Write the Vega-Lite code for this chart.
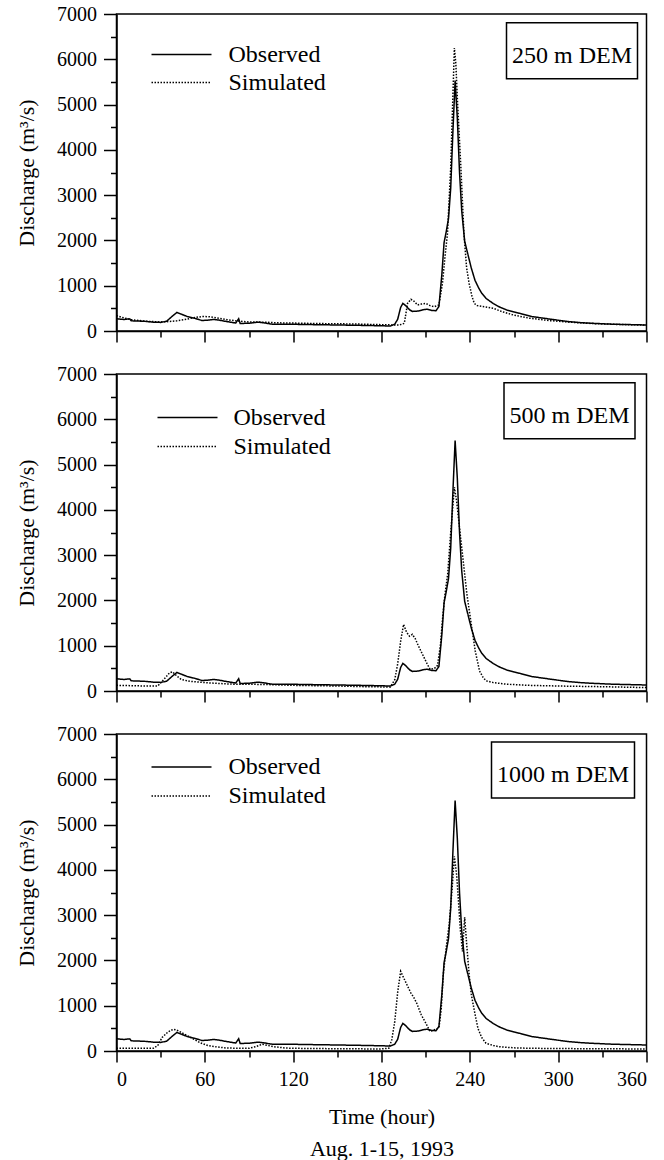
{
  "$schema": "https://vega.github.io/schema/vega-lite/v6.json",
  "padding": {"top": 3, "left": 13.5, "right": 1, "bottom": 2},
  "spacing": 19,
  "background": "white",
  "config": {
    "view": {"stroke": "black", "strokeWidth": 1.5},
    "axis": {
      "domainColor": "black", "domainWidth": 1.5,
      "tickColor": "black", "tickWidth": 1.5,
      "labelFont": "Liberation Serif", "labelFontSize": 20, "labelColor": "black", "labelPadding": 7,
      "titleFont": "Liberation Serif", "titleFontSize": 22, "titleFontWeight": "normal", "titleColor": "black",
      "grid": false, "labelOverlap": false
    },
    "legend": {
      "labelFont": "Liberation Serif", "labelFontSize": 24, "labelColor": "black", "labelLimit": 400
    }
  },
  "datasets": {
    "obs": [
      {"t":0,"q":270,"series":"Observed"},{"t":5,"q":255,"series":"Observed"},{"t":9,"q":268,"series":"Observed"},{"t":10,"q":225,"series":"Observed"},{"t":15,"q":220,"series":"Observed"},{"t":20,"q":212,"series":"Observed"},{"t":25,"q":195,"series":"Observed"},{"t":30,"q":190,"series":"Observed"},{"t":34,"q":215,"series":"Observed"},{"t":38,"q":330,"series":"Observed"},{"t":41,"q":410,"series":"Observed"},{"t":44,"q":372,"series":"Observed"},{"t":48,"q":320,"series":"Observed"},{"t":53,"q":282,"series":"Observed"},{"t":58,"q":232,"series":"Observed"},{"t":62,"q":240,"series":"Observed"},{"t":66,"q":255,"series":"Observed"},{"t":70,"q":238,"series":"Observed"},{"t":76,"q":202,"series":"Observed"},{"t":81,"q":176,"series":"Observed"},{"t":83,"q":270,"series":"Observed"},{"t":84,"q":165,"series":"Observed"},{"t":90,"q":172,"series":"Observed"},{"t":96,"q":195,"series":"Observed"},{"t":100,"q":182,"series":"Observed"},{"t":105,"q":152,"series":"Observed"},{"t":120,"q":148,"series":"Observed"},{"t":135,"q":140,"series":"Observed"},{"t":150,"q":133,"series":"Observed"},{"t":165,"q":125,"series":"Observed"},{"t":179,"q":116,"series":"Observed"},{"t":186,"q":110,"series":"Observed"},{"t":189,"q":150,"series":"Observed"},{"t":191,"q":260,"series":"Observed"},{"t":193,"q":520,"series":"Observed"},{"t":194.5,"q":610,"series":"Observed"},{"t":196.5,"q":560,"series":"Observed"},{"t":199,"q":470,"series":"Observed"},{"t":201,"q":432,"series":"Observed"},{"t":205,"q":440,"series":"Observed"},{"t":208,"q":468,"series":"Observed"},{"t":211,"q":480,"series":"Observed"},{"t":214,"q":455,"series":"Observed"},{"t":217,"q":448,"series":"Observed"},{"t":219,"q":540,"series":"Observed"},{"t":221,"q":1250,"series":"Observed"},{"t":222.5,"q":1950,"series":"Observed"},{"t":224,"q":2200,"series":"Observed"},{"t":225.5,"q":2480,"series":"Observed"},{"t":227,"q":3150,"series":"Observed"},{"t":228.5,"q":4400,"series":"Observed"},{"t":230,"q":5530,"series":"Observed"},{"t":231.5,"q":4700,"series":"Observed"},{"t":233,"q":3500,"series":"Observed"},{"t":234.5,"q":2650,"series":"Observed"},{"t":236.5,"q":1980,"series":"Observed"},{"t":239,"q":1650,"series":"Observed"},{"t":241,"q":1390,"series":"Observed"},{"t":243.5,"q":1120,"series":"Observed"},{"t":246,"q":950,"series":"Observed"},{"t":248,"q":840,"series":"Observed"},{"t":251,"q":720,"series":"Observed"},{"t":254,"q":650,"series":"Observed"},{"t":256,"q":605,"series":"Observed"},{"t":259.5,"q":540,"series":"Observed"},{"t":265,"q":465,"series":"Observed"},{"t":270,"q":420,"series":"Observed"},{"t":274,"q":390,"series":"Observed"},{"t":282,"q":320,"series":"Observed"},{"t":288,"q":292,"series":"Observed"},{"t":294,"q":265,"series":"Observed"},{"t":300,"q":238,"series":"Observed"},{"t":308,"q":205,"series":"Observed"},{"t":315,"q":185,"series":"Observed"},{"t":323,"q":170,"series":"Observed"},{"t":337,"q":150,"series":"Observed"},{"t":350,"q":140,"series":"Observed"},{"t":360,"q":133,"series":"Observed"}
    ],
    "s250": [
      {"t":0,"q":340,"series":"Simulated"},{"t":5,"q":290,"series":"Simulated"},{"t":10,"q":250,"series":"Simulated"},{"t":20,"q":215,"series":"Simulated"},{"t":30,"q":200,"series":"Simulated"},{"t":36,"q":210,"series":"Simulated"},{"t":41,"q":225,"series":"Simulated"},{"t":46,"q":250,"series":"Simulated"},{"t":52,"q":290,"series":"Simulated"},{"t":58,"q":320,"series":"Simulated"},{"t":63,"q":315,"series":"Simulated"},{"t":68,"q":290,"series":"Simulated"},{"t":75,"q":250,"series":"Simulated"},{"t":82,"q":222,"series":"Simulated"},{"t":90,"q":200,"series":"Simulated"},{"t":100,"q":195,"series":"Simulated"},{"t":110,"q":180,"series":"Simulated"},{"t":120,"q":175,"series":"Simulated"},{"t":135,"q":165,"series":"Simulated"},{"t":150,"q":160,"series":"Simulated"},{"t":165,"q":152,"series":"Simulated"},{"t":180,"q":140,"series":"Simulated"},{"t":192,"q":130,"series":"Simulated"},{"t":195.5,"q":170,"series":"Simulated"},{"t":197.7,"q":610,"series":"Simulated"},{"t":200,"q":700,"series":"Simulated"},{"t":202,"q":660,"series":"Simulated"},{"t":204.5,"q":575,"series":"Simulated"},{"t":207,"q":595,"series":"Simulated"},{"t":210,"q":610,"series":"Simulated"},{"t":213,"q":560,"series":"Simulated"},{"t":215.7,"q":537,"series":"Simulated"},{"t":219,"q":575,"series":"Simulated"},{"t":221.4,"q":1050,"series":"Simulated"},{"t":223,"q":1600,"series":"Simulated"},{"t":224.8,"q":2150,"series":"Simulated"},{"t":227,"q":3600,"series":"Simulated"},{"t":228.5,"q":5200,"series":"Simulated"},{"t":229.5,"q":6250,"series":"Simulated"},{"t":230.5,"q":5900,"series":"Simulated"},{"t":231.6,"q":5080,"series":"Simulated"},{"t":233.9,"q":3620,"series":"Simulated"},{"t":236,"q":2150,"series":"Simulated"},{"t":237.8,"q":1400,"series":"Simulated"},{"t":239.5,"q":1050,"series":"Simulated"},{"t":241.5,"q":760,"series":"Simulated"},{"t":243,"q":611,"series":"Simulated"},{"t":245,"q":560,"series":"Simulated"},{"t":250,"q":536,"series":"Simulated"},{"t":256,"q":500,"series":"Simulated"},{"t":262,"q":426,"series":"Simulated"},{"t":270,"q":350,"series":"Simulated"},{"t":280,"q":285,"series":"Simulated"},{"t":294,"q":230,"series":"Simulated"},{"t":310,"q":190,"series":"Simulated"},{"t":323,"q":165,"series":"Simulated"},{"t":340,"q":145,"series":"Simulated"},{"t":360,"q":130,"series":"Simulated"}
    ],
    "s500": [
      {"t":0,"q":125,"series":"Simulated"},{"t":10,"q":118,"series":"Simulated"},{"t":20,"q":110,"series":"Simulated"},{"t":28,"q":110,"series":"Simulated"},{"t":32,"q":250,"series":"Simulated"},{"t":36,"q":400,"series":"Simulated"},{"t":38,"q":425,"series":"Simulated"},{"t":41,"q":330,"series":"Simulated"},{"t":44,"q":255,"series":"Simulated"},{"t":50,"q":212,"series":"Simulated"},{"t":60,"q":185,"series":"Simulated"},{"t":70,"q":165,"series":"Simulated"},{"t":80,"q":150,"series":"Simulated"},{"t":100,"q":145,"series":"Simulated"},{"t":120,"q":125,"series":"Simulated"},{"t":150,"q":110,"series":"Simulated"},{"t":170,"q":95,"series":"Simulated"},{"t":186,"q":88,"series":"Simulated"},{"t":189,"q":250,"series":"Simulated"},{"t":191,"q":600,"series":"Simulated"},{"t":193,"q":1100,"series":"Simulated"},{"t":195,"q":1470,"series":"Simulated"},{"t":197,"q":1300,"series":"Simulated"},{"t":199,"q":1210,"series":"Simulated"},{"t":201,"q":1250,"series":"Simulated"},{"t":203,"q":1150,"series":"Simulated"},{"t":205,"q":1000,"series":"Simulated"},{"t":208,"q":800,"series":"Simulated"},{"t":211,"q":600,"series":"Simulated"},{"t":213,"q":480,"series":"Simulated"},{"t":216,"q":500,"series":"Simulated"},{"t":218,"q":560,"series":"Simulated"},{"t":220,"q":1000,"series":"Simulated"},{"t":221.5,"q":1600,"series":"Simulated"},{"t":223,"q":2100,"series":"Simulated"},{"t":225,"q":2600,"series":"Simulated"},{"t":227,"q":3500,"series":"Simulated"},{"t":229.5,"q":4500,"series":"Simulated"},{"t":231,"q":4200,"series":"Simulated"},{"t":232.5,"q":3750,"series":"Simulated"},{"t":235,"q":3020,"series":"Simulated"},{"t":238,"q":2140,"series":"Simulated"},{"t":241,"q":1470,"series":"Simulated"},{"t":243.7,"q":880,"series":"Simulated"},{"t":246.6,"q":440,"series":"Simulated"},{"t":249,"q":300,"series":"Simulated"},{"t":251,"q":225,"series":"Simulated"},{"t":256,"q":185,"series":"Simulated"},{"t":265,"q":150,"series":"Simulated"},{"t":280,"q":125,"series":"Simulated"},{"t":300,"q":110,"series":"Simulated"},{"t":330,"q":95,"series":"Simulated"},{"t":360,"q":75,"series":"Simulated"}
    ],
    "s1000": [
      {"t":0,"q":60,"series":"Simulated"},{"t":25,"q":60,"series":"Simulated"},{"t":28,"q":120,"series":"Simulated"},{"t":31,"q":300,"series":"Simulated"},{"t":35,"q":420,"series":"Simulated"},{"t":38.5,"q":480,"series":"Simulated"},{"t":41,"q":460,"series":"Simulated"},{"t":44,"q":410,"series":"Simulated"},{"t":48,"q":340,"series":"Simulated"},{"t":52,"q":270,"series":"Simulated"},{"t":57,"q":180,"series":"Simulated"},{"t":62,"q":120,"series":"Simulated"},{"t":67,"q":95,"series":"Simulated"},{"t":75,"q":65,"series":"Simulated"},{"t":90,"q":58,"series":"Simulated"},{"t":95,"q":100,"series":"Simulated"},{"t":99,"q":150,"series":"Simulated"},{"t":103,"q":120,"series":"Simulated"},{"t":108,"q":90,"series":"Simulated"},{"t":115,"q":65,"series":"Simulated"},{"t":125,"q":58,"series":"Simulated"},{"t":150,"q":50,"series":"Simulated"},{"t":179,"q":45,"series":"Simulated"},{"t":185,"q":60,"series":"Simulated"},{"t":187,"q":250,"series":"Simulated"},{"t":189,"q":650,"series":"Simulated"},{"t":191,"q":1300,"series":"Simulated"},{"t":193,"q":1760,"series":"Simulated"},{"t":195,"q":1620,"series":"Simulated"},{"t":197,"q":1480,"series":"Simulated"},{"t":200,"q":1280,"series":"Simulated"},{"t":202,"q":1180,"series":"Simulated"},{"t":204,"q":1050,"series":"Simulated"},{"t":207,"q":800,"series":"Simulated"},{"t":210,"q":620,"series":"Simulated"},{"t":213,"q":430,"series":"Simulated"},{"t":216,"q":470,"series":"Simulated"},{"t":219,"q":510,"series":"Simulated"},{"t":220.5,"q":900,"series":"Simulated"},{"t":222,"q":1700,"series":"Simulated"},{"t":224,"q":2300,"series":"Simulated"},{"t":226,"q":2800,"series":"Simulated"},{"t":228,"q":3600,"series":"Simulated"},{"t":229.5,"q":4300,"series":"Simulated"},{"t":231,"q":3900,"series":"Simulated"},{"t":232,"q":3450,"series":"Simulated"},{"t":233.5,"q":2700,"series":"Simulated"},{"t":235,"q":2200,"series":"Simulated"},{"t":236.5,"q":2950,"series":"Simulated"},{"t":238,"q":2300,"series":"Simulated"},{"t":239.5,"q":1700,"series":"Simulated"},{"t":241,"q":1250,"series":"Simulated"},{"t":243,"q":900,"series":"Simulated"},{"t":245.5,"q":500,"series":"Simulated"},{"t":248,"q":300,"series":"Simulated"},{"t":251,"q":170,"series":"Simulated"},{"t":256,"q":120,"series":"Simulated"},{"t":260,"q":95,"series":"Simulated"},{"t":270,"q":70,"series":"Simulated"},{"t":280,"q":60,"series":"Simulated"},{"t":320,"q":50,"series":"Simulated"},{"t":360,"q":45,"series":"Simulated"}
    ]
  },
  "resolve": {"scale": {"color": "independent", "strokeDash": "independent"}, "legend": {"color": "independent", "strokeDash": "independent"}},
  "vconcat": [
    {
      "width": 530, "height": 317,
      "encoding": {
        "x": {"field": "t", "type": "quantitative", "scale": {"domain": [0, 360], "nice": false},
          "axis": {"values": [0,30,60,90,120,150,180,210,240,270,300,330,360], "labels": false, "title": null,
            "tickSize": {"condition": {"test": "datum.value % 60 === 0", "value": 11}, "value": 6}}},
        "y": {"field": "q", "type": "quantitative", "scale": {"domain": [0, 7000], "nice": false},
          "axis": {"values": [0,500,1000,1500,2000,2500,3000,3500,4000,4500,5000,5500,6000,6500,7000], "format": "d",
            "labelExpr": "datum.value % 1000 === 0 ? datum.label : ''", "title": "Discharge (m³/s)", "titlePadding": 18.5,
            "tickSize": {"condition": {"test": "datum.value % 1000 === 0", "value": 13}, "value": 6}}},
        "strokeDash": {"field": "series", "type": "nominal",
          "scale": {"domain": ["Observed", "Simulated"], "range": [[1, 0], [1.5, 1.5]]},
          "legend": {"title": null, "orient": "none", "legendX": 34, "legendY": 27, "symbolType": "stroke",
            "symbolSize": 3600, "symbolStrokeWidth": 1.5, "symbolStrokeColor": "black", "clipHeight": 27,
            "rowPadding": 1, "labelOffset": 16, "padding": 0}},
        "color": {"datum": "250 m DEM", "type": "nominal", "scale": {"range": ["black"]},
          "legend": {"title": null, "orient": "none", "legendX": 390, "legendY": 8.7, "symbolSize": 0.01,
            "symbolOpacity": 0, "symbolStrokeWidth": 0.01, "labelOffset": -24, "padding": 5.5, "clipHeight": 45,
            "strokeColor": "black",
            "encode": {"labels": {"update": {"dy": {"value": 5}}}, "legend": {"update": {"strokeWidth": {"value": 1.5}}}}}}
      },
      "layer": [
        {"data": {"name": "obs"}, "mark": {"type": "line", "strokeWidth": 1.5}},
        {"data": {"name": "s250"}, "mark": {"type": "line", "strokeWidth": 1.5}}
      ]
    },
    {
      "width": 530, "height": 317,
      "encoding": {
        "x": {"field": "t", "type": "quantitative", "scale": {"domain": [0, 360], "nice": false},
          "axis": {"values": [0,30,60,90,120,150,180,210,240,270,300,330,360], "labels": false, "title": null,
            "tickSize": {"condition": {"test": "datum.value % 60 === 0", "value": 11}, "value": 6}}},
        "y": {"field": "q", "type": "quantitative", "scale": {"domain": [0, 7000], "nice": false},
          "axis": {"values": [0,500,1000,1500,2000,2500,3000,3500,4000,4500,5000,5500,6000,6500,7000], "format": "d",
            "labelExpr": "datum.value % 1000 === 0 ? datum.label : ''", "title": "Discharge (m³/s)", "titlePadding": 18.5,
            "tickSize": {"condition": {"test": "datum.value % 1000 === 0", "value": 13}, "value": 6}}},
        "strokeDash": {"field": "series", "type": "nominal",
          "scale": {"domain": ["Observed", "Simulated"], "range": [[1, 0], [1.5, 1.5]]},
          "legend": {"title": null, "orient": "none", "legendX": 40, "legendY": 30, "symbolType": "stroke",
            "symbolSize": 3600, "symbolStrokeWidth": 1.5, "symbolStrokeColor": "black", "clipHeight": 27,
            "rowPadding": 2, "labelOffset": 15, "padding": 0}},
        "color": {"datum": "500 m DEM", "type": "nominal", "scale": {"range": ["black"]},
          "legend": {"title": null, "orient": "none", "legendX": 387.5, "legendY": 8.7, "symbolSize": 0.01,
            "symbolOpacity": 0, "symbolStrokeWidth": 0.01, "labelOffset": -24, "padding": 5.5, "clipHeight": 45,
            "strokeColor": "black",
            "encode": {"labels": {"update": {"dy": {"value": 5}}}, "legend": {"update": {"strokeWidth": {"value": 1.5}}}}}}
      },
      "layer": [
        {"data": {"name": "obs"}, "mark": {"type": "line", "strokeWidth": 1.5}},
        {"data": {"name": "s500"}, "mark": {"type": "line", "strokeWidth": 1.5}}
      ]
    },
    {
      "width": 530, "height": 317,
      "encoding": {
        "x": {"field": "t", "type": "quantitative", "scale": {"domain": [0, 360], "nice": false},
          "axis": {"values": [0,30,60,90,120,150,180,210,240,270,300,330,360],
            "labelExpr": "datum.value % 60 === 0 ? datum.label : ''",
            "title": ["Time (hour)", "Aug. 1-15, 1993"], "titleLineHeight": 32, "titlePadding": 17,
            "tickSize": {"condition": {"test": "datum.value % 60 === 0", "value": 11}, "value": 6}}},
        "y": {"field": "q", "type": "quantitative", "scale": {"domain": [0, 7000], "nice": false},
          "axis": {"values": [0,500,1000,1500,2000,2500,3000,3500,4000,4500,5000,5500,6000,6500,7000], "format": "d",
            "labelExpr": "datum.value % 1000 === 0 ? datum.label : ''", "title": "Discharge (m³/s)", "titlePadding": 18.5,
            "tickSize": {"condition": {"test": "datum.value % 1000 === 0", "value": 13}, "value": 6}}},
        "strokeDash": {"field": "series", "type": "nominal",
          "scale": {"domain": ["Observed", "Simulated"], "range": [[1, 0], [1.5, 1.5]]},
          "legend": {"title": null, "orient": "none", "legendX": 34, "legendY": 19.5, "symbolType": "stroke",
            "symbolSize": 3600, "symbolStrokeWidth": 1.5, "symbolStrokeColor": "black", "clipHeight": 27,
            "rowPadding": 2, "labelOffset": 16, "padding": 0}},
        "color": {"datum": "1000 m DEM", "type": "nominal", "scale": {"range": ["black"]},
          "legend": {"title": null, "orient": "none", "legendX": 375, "legendY": 8, "symbolSize": 0.01,
            "symbolOpacity": 0, "symbolStrokeWidth": 0.01, "labelOffset": -24, "padding": 5.5, "clipHeight": 45,
            "strokeColor": "black",
            "encode": {"labels": {"update": {"dy": {"value": 5}}}, "legend": {"update": {"strokeWidth": {"value": 1.5}}}}}}
      },
      "layer": [
        {"data": {"name": "obs"}, "mark": {"type": "line", "strokeWidth": 1.5}},
        {"data": {"name": "s1000"}, "mark": {"type": "line", "strokeWidth": 1.5}}
      ]
    }
  ]
}
